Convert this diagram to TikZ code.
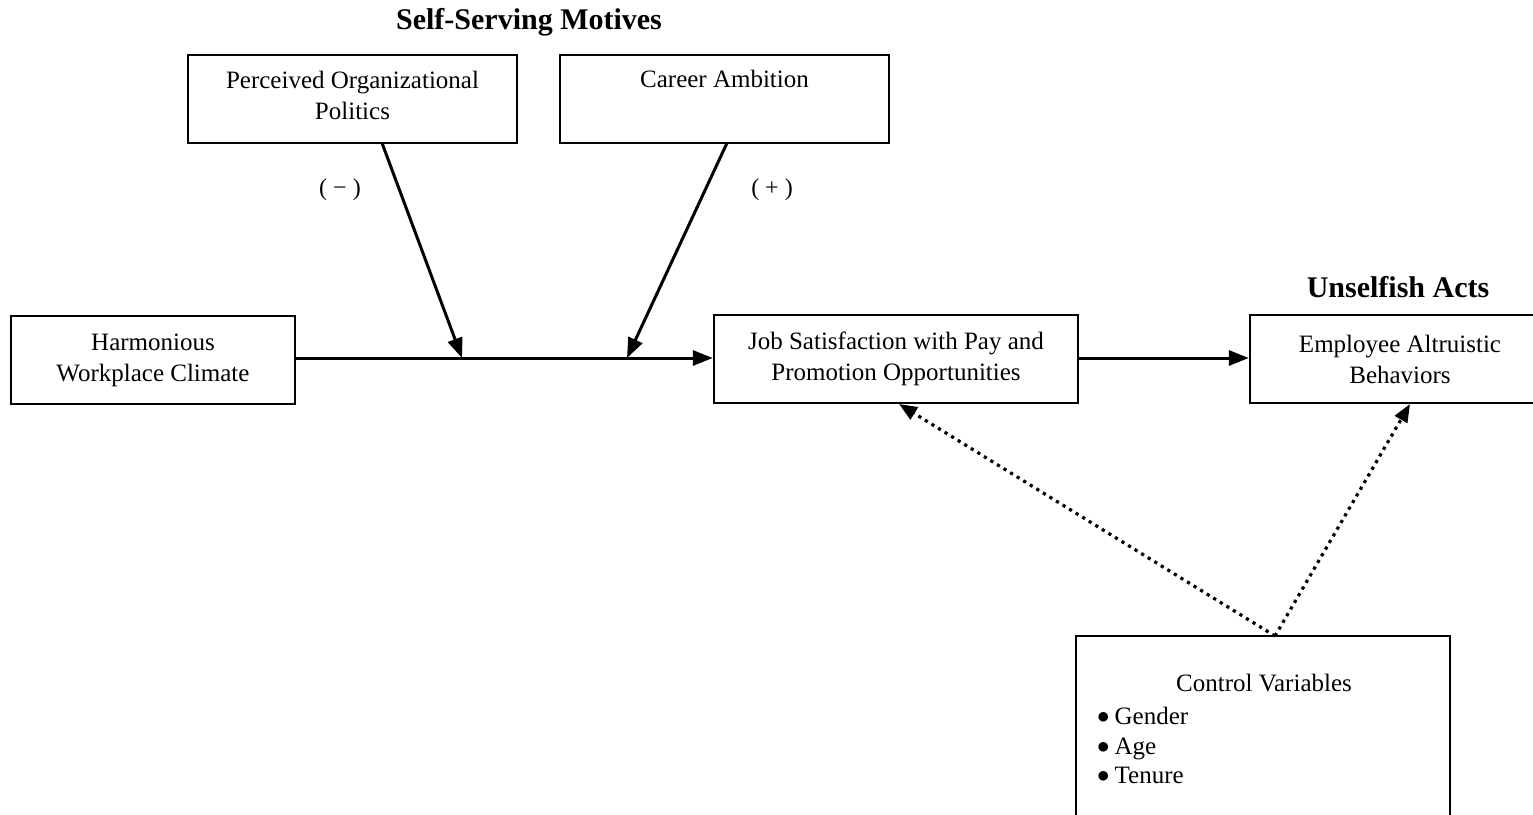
\documentclass[tikz,border=0pt]{standalone}
\usepackage{fontspec}
\setmainfont{Liberation Serif}
\usetikzlibrary{arrows.meta,calc}
\newcommand{\bul}{\raisebox{1pt}{$\bullet$}\hspace{5pt}}
\begin{document}
\begin{tikzpicture}[x=1pt,y=-1pt,
  box/.style={draw,line width=2.4pt,rectangle,inner sep=0pt,align=center,
    font=\fontsize{25}{31}\selectfont},
  heading/.style={font=\fontsize{30}{34}\selectfont\bfseries},
  sign/.style={font=\fontsize{24}{28}\selectfont},
  txt/.style={font=\fontsize{25}{30}\selectfont,inner sep=0pt},
  solidarrow/.style={line width=3pt,-{Triangle[length=20pt,width=15pt]}},
  dotarrow/.style={line width=3.2pt,dash pattern=on 3.2pt off 4.5pt,-{Triangle[length=18pt,width=14pt]}}]
\useasboundingbox (0,0) rectangle (1533,814);
% titles
\node[heading] (t1) at (529,22) {Self-Serving Motives};
\node[heading] (t2) at (1398,287) {Unselfish Acts};
% boxes
\node[box,minimum width=329pt,minimum height=88pt] (pol) at (352.5,99) {Perceived Organizational\\Politics\\[-23pt]\mbox{}};
\node[box,minimum width=329pt,minimum height=88pt] (car) at (724.5,99) {Career Ambition\\\strut};
\node[box,minimum width=284pt,minimum height=88pt] (harm) at (153,360) {Harmonious\\Workplace Climate\\[-27pt]\mbox{}};
\node[box,minimum width=364pt,minimum height=88pt] (job) at (896,359) {Job Satisfaction with Pay and\\Promotion Opportunities};
\node[box,minimum width=300pt,minimum height=88pt] (emp) at (1400,359) {Employee Altruistic\\Behaviors};
\node[box,minimum width=374pt,minimum height=210pt] (ctrl) at (1263,741) {};
% control variable texts
\node[txt,anchor=base] (cv) at (1264,691) {Control Variables};
\node[txt,anchor=base west] (g1) at (1097,724) {\bul Gender};
\node[txt,anchor=base west] (g2) at (1097,754) {\bul Age};
\node[txt,anchor=base west] (g3) at (1097,783) {\bul Tenure};
% signs
\node[sign] (minus) at (340,190) {( − )};
\node[sign] (plus) at (772,190) {( + )};
% main path
\coordinate (m1) at (462,358);
\coordinate (m2) at (627,358);
\coordinate (p1) at (382,143);
\coordinate (p2) at (727,143);
\draw[solidarrow] (harm.east |- m1) -- (job.west |- m1);
\draw[solidarrow] (p1) -- (m1);
\draw[solidarrow] (p2) -- (m2);
\draw[solidarrow] (job.east |- m1) -- (emp.west |- m1);
% dotted arrows
\coordinate (cs) at (1275,636);
\coordinate (je) at (899,404);
\coordinate (ee) at (1410,404);
\draw[dotarrow] (cs) -- (je);
\draw[dotarrow] (cs) -- (ee);
\end{tikzpicture}
\end{document}
